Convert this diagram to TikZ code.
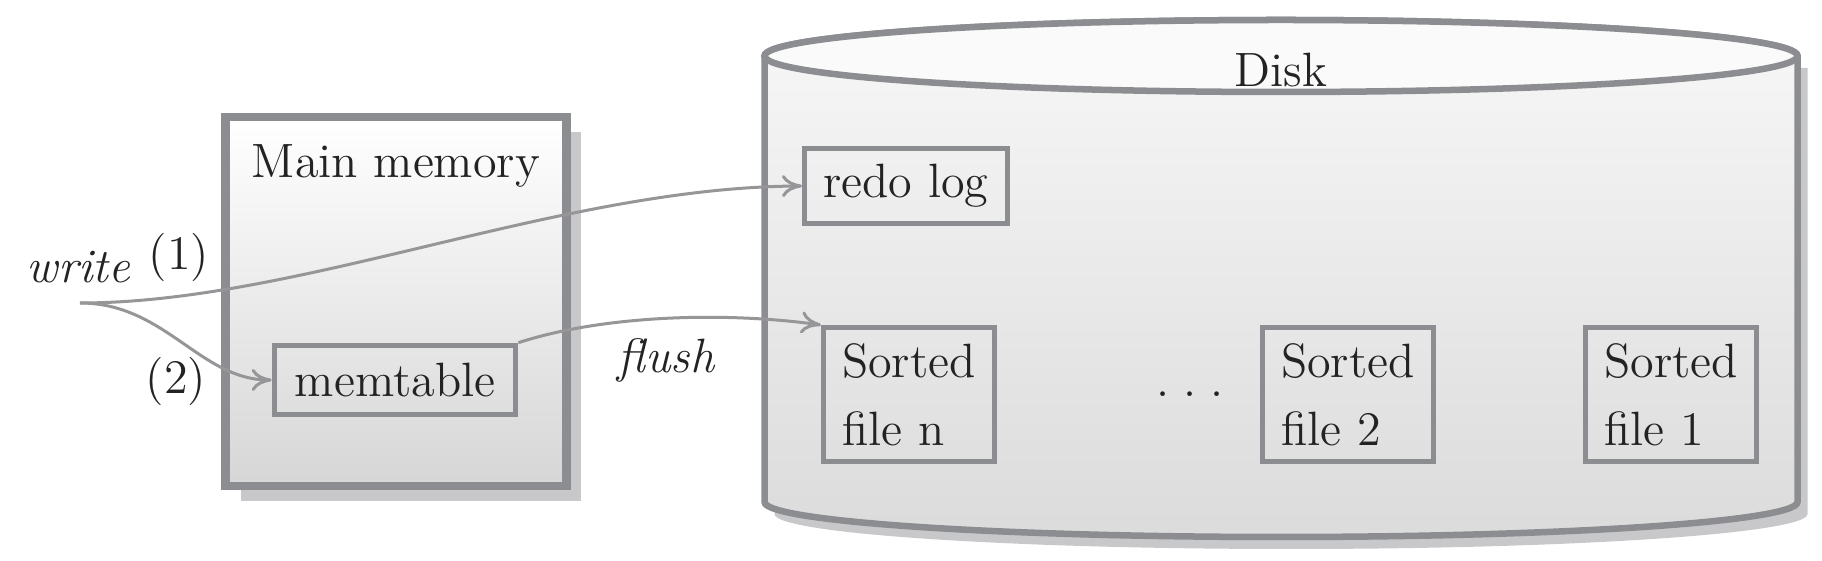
\documentclass[tikz,border=0pt]{standalone}
\usetikzlibrary{arrows.meta,shadows}
\definecolor{linegray}{RGB}{150,150,153}
\definecolor{boxgray}{RGB}{140,141,145}
\definecolor{shadowgray}{RGB}{200,200,203}
\definecolor{textgray}{RGB}{35,35,35}

\begin{document}
\begin{tikzpicture}[x=0.01cm,y=0.01cm,
    every node/.style={font=\fontsize{13.7}{19.4}\selectfont,text=textgray},
    filebox/.style={draw=boxgray,line width=0.05cm,inner sep=0pt,align=left},
    flow/.style={draw=linegray,line width=0.03cm,-{Computer Modern Rightarrow[length=0.2cm,width=0.22cm]}}]

    \useasboundingbox (0,0) rectangle (1822,561);

    % limits of the disk
    \def\L{764.5}
    \def\R{1797.5}
    \def\T{505}
    \def\B{59}
    \def\rx{516.5}

    % disk
    \fill[shadowgray] (\L+10,\T-12) -- (\L+10,\B-12) arc[start angle=180,end angle=360,x radius=\rx,y radius=35] -- (\R+10,\T-12) -- cycle;
    \draw[boxgray,line width=0.065cm,top color=white!97!black,bottom color=black!14]
        (\L,\T) -- (\L,\B) arc[start angle=180,end angle=360,x radius=\rx,y radius=35] -- (\R,\T) arc[start angle=0,end angle=180,x radius=\rx,y radius=36] -- cycle;
    \draw[boxgray,line width=0.065cm,fill=white!98!black] (1281,\T) ellipse[x radius=\rx,y radius=36];
    \node[anchor=base] (disk) at (1281,474) {Disk};

    % main memory
    \node[draw=boxgray,line width=0.085cm,minimum width=3.405cm,minimum height=3.69cm,
        top color=white,bottom color=black!16,
        drop shadow={shadow xshift=0.15cm,shadow yshift=-0.15cm,fill=shadowgray,opacity=1}] (mainmem) at (396,259.5) {};
    \node[anchor=base] (memlabel) at (396,383) {Main memory};
    \node[filebox,minimum width=2.415cm,minimum height=0.695cm,align=center] (memtable) at (395,181) {memtable};

    % files on disk
    \node[filebox,minimum width=2.03cm,minimum height=0.75cm,align=center] (redolog) at (906,375) {redo log};
    \foreach \x/\n in {909/n,1348/2,1671/1}{
        \node[filebox,minimum width=1.71cm,minimum height=1.34cm] (sorted\n) at (\x,166.5) {Sorted\\file \n};
    }
    \node[anchor=base] (dots) at (1190,164) {.\hspace{0.14cm}.\hspace{0.14cm}.};

    % labels
    \node[anchor=base] (write) at (78.5,278) {\itshape write};
    \node (one) at (179,304) {(1)};
    \node (two) at (176,180) {(2)};
    \node[anchor=base] (flush) at (666,188) {\itshape flush};

    % lines
    \coordinate (wstart) at (80,258);
    \draw[flow] (wstart) .. controls (300,258) and (560,374) .. (redolog.west);
    \draw[flow] (wstart) .. controls (165,258) and (200,181) .. (memtable.west);
    \draw[flow] (memtable.north east) .. controls (600,245) and (720,250) .. (sortedn.north west);

\end{tikzpicture}
\end{document}
